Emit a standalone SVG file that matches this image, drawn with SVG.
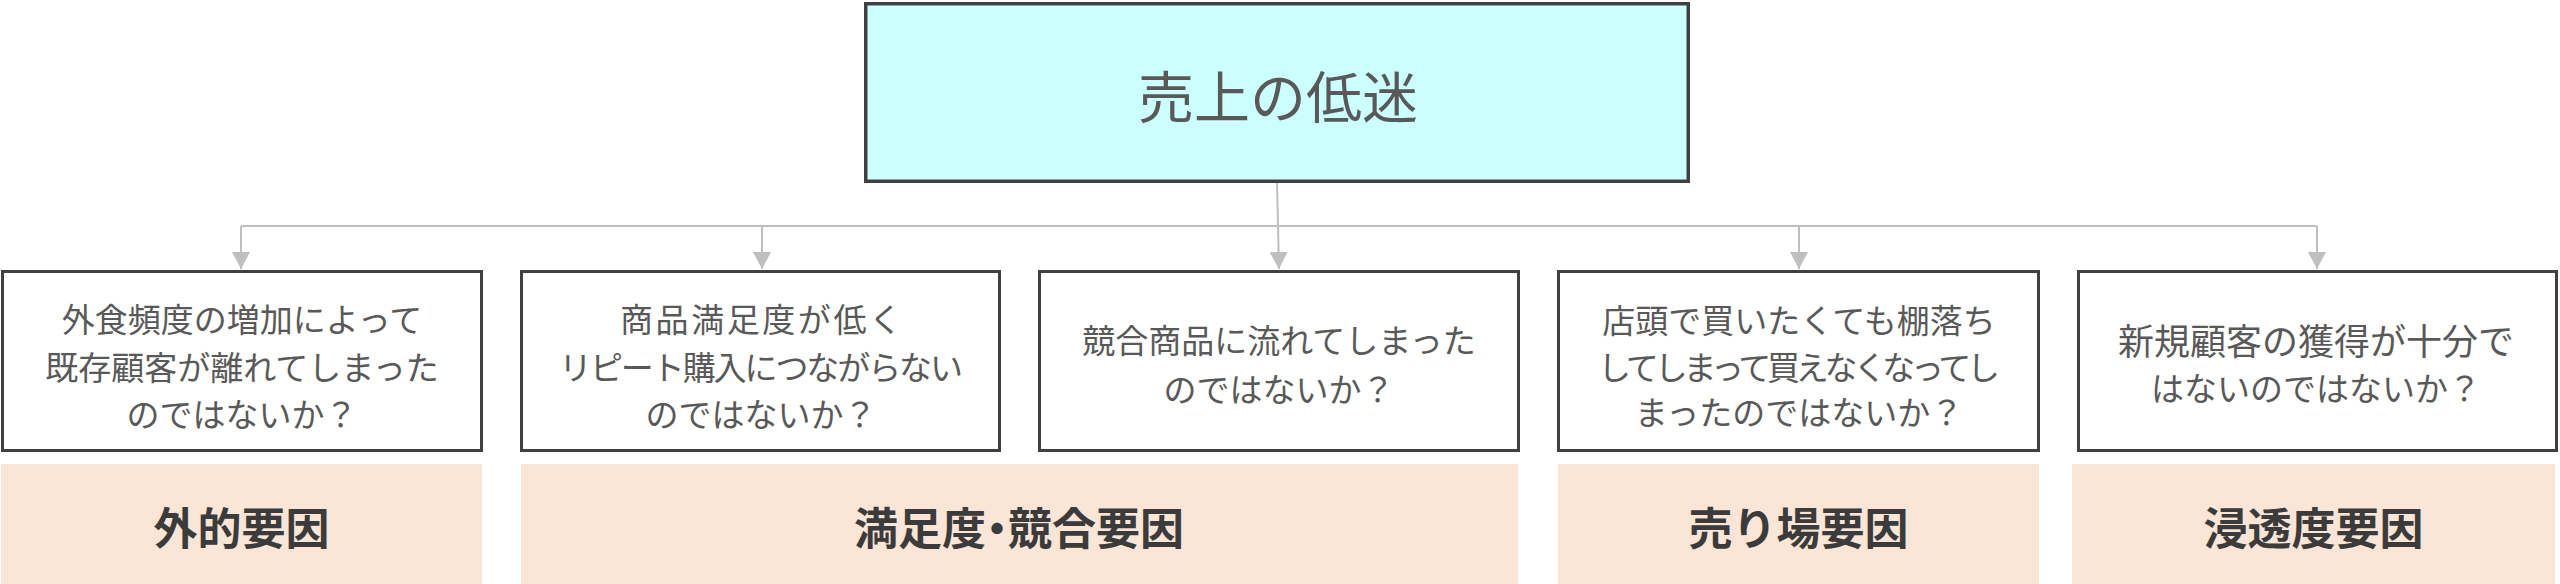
<svg xmlns="http://www.w3.org/2000/svg" width="2560" height="584" viewBox="0 0 2560 584">
<style>
.box{fill:#FFFFFF;stroke:#404040;stroke-width:3}
.top{fill:#CCFFFF;stroke:#404040;stroke-width:3.5}
.lab{fill:#FBE5D6}
.t{font-family:"Noto Sans CJK JP","Noto Sans",sans-serif;font-size:33px;fill:#595959;text-anchor:middle;dominant-baseline:central}
.tt{font-family:"Noto Sans CJK JP","Noto Sans",sans-serif;font-size:56px;fill:#595959;text-anchor:middle;dominant-baseline:central}
.lt{font-family:"Noto Sans CJK JP","Noto Sans",sans-serif;font-size:44px;font-weight:bold;fill:#3B3B3B;text-anchor:middle;dominant-baseline:central}
.c{fill:none;stroke:#BFBFBF;stroke-width:2}
</style>
<defs>
<marker id="ah" markerUnits="userSpaceOnUse" viewBox="0 0 17 18" refX="17" refY="9" markerWidth="17" markerHeight="18" orient="auto">
<path d="M0,0 L17,9 L0,18 Z" fill="#BFBFBF"/>
</marker>
</defs>
<g id="connectors">
<line class="c" x1="241" y1="226" x2="2317" y2="226"/>
<line class="c" x1="1277" y1="183" x2="1279" y2="269" marker-end="url(#ah)"/>
<line class="c" x1="241" y1="226" x2="241" y2="269" marker-end="url(#ah)"/>
<line class="c" x1="762" y1="226" x2="762" y2="269" marker-end="url(#ah)"/>
<line class="c" x1="1799" y1="226" x2="1799" y2="269" marker-end="url(#ah)"/>
<line class="c" x1="2317" y1="226" x2="2317" y2="269" marker-end="url(#ah)"/>
</g>
<g id="root">
<rect class="top" x="865.75" y="3.75" width="822.5" height="177.5"/>
<text class="tt" x="1278" y="93">売上の低迷</text>
</g>
<g id="n1">
<rect class="box" x="2.5" y="271.5" width="479" height="179"/>
<text class="t" x="242" y="318">外食頻度の増加によって</text>
<text class="t" x="242" y="366">既存顧客が離れてしまった</text>
<text class="t" x="242" y="413">のではないか？</text>
</g>
<g id="n2">
<rect class="box" x="521.5" y="271.5" width="478" height="179"/>
<text class="t" x="761" y="318" textLength="282">商品満足度が低く</text>
<text class="t" x="761" y="366" textLength="404">リピート購入につながらない</text>
<text class="t" x="761" y="413">のではないか？</text>
</g>
<g id="n3">
<rect class="box" x="1039.5" y="271.5" width="479" height="179"/>
<text class="t" x="1279" y="339">競合商品に流れてしまった</text>
<text class="t" x="1279" y="388">のではないか？</text>
</g>
<g id="n4">
<rect class="box" x="1558.5" y="271.5" width="480" height="179"/>
<text class="t" x="1799" y="319">店頭で買いたくても棚落ち</text>
<text class="t" x="1799" y="366" textLength="402">してしまって買えなくなってし</text>
<text class="t" x="1799" y="411">まったのではないか？</text>
</g>
<g id="n5">
<rect class="box" x="2078.5" y="271.5" width="478" height="179"/>
<text class="t" x="2316" y="339" style="font-size:36px">新規顧客の獲得が十分で</text>
<text class="t" x="2316" y="387">はないのではないか？</text>
</g>
<g id="l1">
<rect class="lab" x="1" y="464" width="481" height="120"/>
<text class="lt" x="241.5" y="526">外的要因</text>
</g>
<g id="l2">
<rect class="lab" x="521" y="464" width="997" height="120"/>
<text class="lt" x="1019" y="526" style="font-feature-settings:'palt'">満足度・競合要因</text>
</g>
<g id="l3">
<rect class="lab" x="1558" y="464" width="481" height="120"/>
<text class="lt" x="1798.5" y="526">売り場要因</text>
</g>
<g id="l4">
<rect class="lab" x="2072" y="464" width="483" height="120"/>
<text class="lt" x="2313.5" y="526">浸透度要因</text>
</g>
</svg>
